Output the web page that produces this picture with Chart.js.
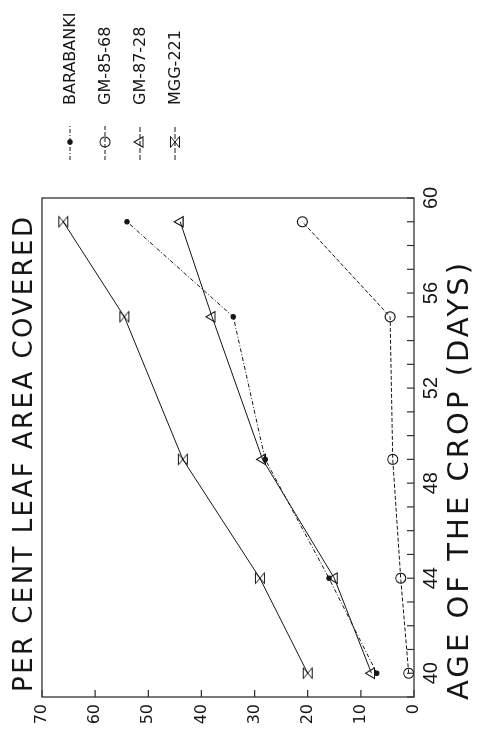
<!DOCTYPE html>
<html>
<head>
<meta charset="utf-8">
<title>Per cent leaf area covered</title>
<script src="https://cdn.jsdelivr.net/npm/chart.js@4.4.1/dist/chart.umd.min.js"></script>
<style>
	html, body { margin: 0; padding: 0; background: #fff; overflow: hidden; }
	/* the figure is laid out landscape and turned a quarter turn to the left */
	#wrap {
		position: absolute; left: 0; top: 0;
		width: 729px; height: 486px;
		transform-origin: 0 0;
		transform: translate(0, 729px) rotate(-90deg);
	}
</style>
</head>
<body>
<div id="wrap"><canvas id="chart" width="729" height="486"></canvas></div>
<script>
"use strict";

// Age of the crop (days) at each observation
var days = [40, 44, 49, 55, 59];

// Per cent leaf area covered, one list per variety
var barabanki = [7, 16, 28, 34, 54];
var gm8568    = [1, 2.5, 4, 4.5, 21];
var gm8728    = [8, 15, 28.5, 38, 44];
var mgg221    = [20, 29, 43.5, 54.5, 66];

var seriesNames = ['BARABANKI', 'GM-85-68', 'GM-87-28', 'MGG-221'];
var dayLabels   = [40, 44, 48, 52, 56, 60];
var pctLabels   = [0, 10, 20, 30, 40, 50, 60, 70];

var xTitle = 'AGE OF THE CROP (DAYS)';
var yTitle = 'PER CENT LEAF AREA COVERED';

var INK = '#151515';

// hourglass marker for MGG-221
function hourglass() {
	var c = document.createElement('canvas');
	c.width = 14; c.height = 12;
	var g = c.getContext('2d');
	g.strokeStyle = INK;
	g.lineWidth = 1;
	g.beginPath();
	g.moveTo(1.5, 1.5); g.lineTo(12.5, 1.5);
	g.lineTo(1.5, 10.5); g.lineTo(12.5, 10.5);
	g.closePath();
	g.stroke();
	return c;
}

function points(values) {
	return days.map(function(d, i) { return { x: d, y: values[i] }; });
}

function series(idx, values, style, radius, dash, fill) {
	return {
		label: seriesNames[idx],
		data: points(values),
		borderColor: INK,
		borderWidth: 1,
		borderDash: dash,
		pointStyle: style,
		pointRadius: radius,
		pointBorderWidth: 1.1,
		pointBorderColor: INK,
		pointBackgroundColor: fill,
		fill: false,
		tension: 0
	};
}

var datasets = [
	series(0, barabanki, 'circle', 2.2, [4, 2, 1, 2], INK),
	series(1, gm8568, 'circle', 5, [4, 2], 'rgba(255,255,255,0)'),
	series(2, gm8728, 'triangle', 6, [], 'rgba(255,255,255,0)'),
	series(3, mgg221, hourglass(), 6, [], 'rgba(255,255,255,0)')
];

// spread a string so it spans the given width
function spacedText(ctx, text, x, y, width) {
	ctx.letterSpacing = '0px';
	var w = ctx.measureText(text).width;
	ctx.letterSpacing = ((width - w) / (text.length - 1)) + 'px';
	ctx.fillText(text, x, y);
	ctx.letterSpacing = '0px';
}

// frame, inward ticks, axis titles and the key
var framePlugin = {
	id: 'frame',
	afterDraw: function(chart) {
		var ctx = chart.ctx, a = chart.chartArea;
		var xs = chart.scales.x, ys = chart.scales.y;
		ctx.save();
		ctx.strokeStyle = '#333';
		ctx.lineWidth = 1.3;
		ctx.strokeRect(a.left, a.top, a.right - a.left, a.bottom - a.top);

		ctx.lineWidth = 1.2;
		ctx.beginPath();
		xs.ticks.forEach(function(t) {
			var px = xs.getPixelForValue(t.value);
			ctx.moveTo(px, a.bottom); ctx.lineTo(px, a.bottom - 7);
		});
		ys.ticks.forEach(function(t) {
			var py = ys.getPixelForValue(t.value);
			ctx.moveTo(a.left, py); ctx.lineTo(a.left + 7, py);
		});
		ctx.stroke();

		ctx.fillStyle = INK;
		ctx.textBaseline = 'alphabetic';
		ctx.textAlign = 'left';
		ctx.font = '26px "DejaVu Sans", sans-serif';
		spacedText(ctx, yTitle, 37, 32, 475);
		ctx.font = '29px "DejaVu Sans", sans-serif';
		spacedText(ctx, xTitle, 29, 468, 437);

		// key: short line with the series marker, then the name
		chart.data.datasets.forEach(function(ds, i) {
			var y = 70 + i * 35;
			ctx.strokeStyle = INK;
			ctx.lineWidth = 1;
			ctx.setLineDash(ds.borderDash.length ? ds.borderDash : [5, 2]);
			ctx.beginPath();
			ctx.moveTo(569, y); ctx.lineTo(604, y);
			ctx.stroke();
			ctx.setLineDash([]);
			ctx.fillStyle = ds.pointBackgroundColor;
			ctx.lineWidth = ds.pointBorderWidth;
			Chart.helpers.drawPoint(ctx, {
				pointStyle: ds.pointStyle,
				radius: ds.pointRadius,
				rotation: 0,
				borderWidth: ds.pointBorderWidth
			}, 587, y);
			ctx.fillStyle = INK;
			ctx.font = '16px "DejaVu Sans", sans-serif';
			ctx.textBaseline = 'middle';
			ctx.fillText(ds.label, 624, y + 1);
		});
		ctx.restore();
	}
};

new Chart(document.getElementById('chart'), {
	type: 'line',
	data: { datasets: datasets },
	options: {
		responsive: false,
		animation: false,
		events: [],
		layout: { padding: { left: 0, right: 198, top: 42, bottom: 0 } },
		plugins: {
			legend: { display: false },
			tooltip: { enabled: false },
			title: { display: false }
		},
		scales: {
			x: {
				type: 'linear',
				min: 39,
				max: 60,
				afterFit: function(scale) { scale.height = 72; },
				afterBuildTicks: function(scale) {
					var t = [];
					for (var d = 39; d <= 60; d++) t.push({ value: d });
					scale.ticks = t;
				},
				grid: { display: false, drawTicks: false },
				border: { display: false },
				ticks: {
					autoSkip: false,
					maxRotation: 0,
					padding: 5,
					color: INK,
					font: { family: '"Liberation Sans Narrow", "Liberation Sans", sans-serif', size: 20 },
					callback: function(v) { return dayLabels.indexOf(v) !== -1 ? String(v) : ''; }
				}
			},
			y: {
				min: 0,
				max: 70,
				afterFit: function(scale) { scale.width = 32; },
				afterBuildTicks: function(scale) {
					scale.ticks = pctLabels.map(function(v) { return { value: v }; });
				},
				grid: { display: false, drawTicks: false },
				border: { display: false },
				ticks: {
					padding: 7,
					color: INK,
					font: { family: '"DejaVu Sans", sans-serif', size: 16 }
				}
			}
		}
	},
	plugins: [framePlugin]
});
</script>
</body>
</html>
